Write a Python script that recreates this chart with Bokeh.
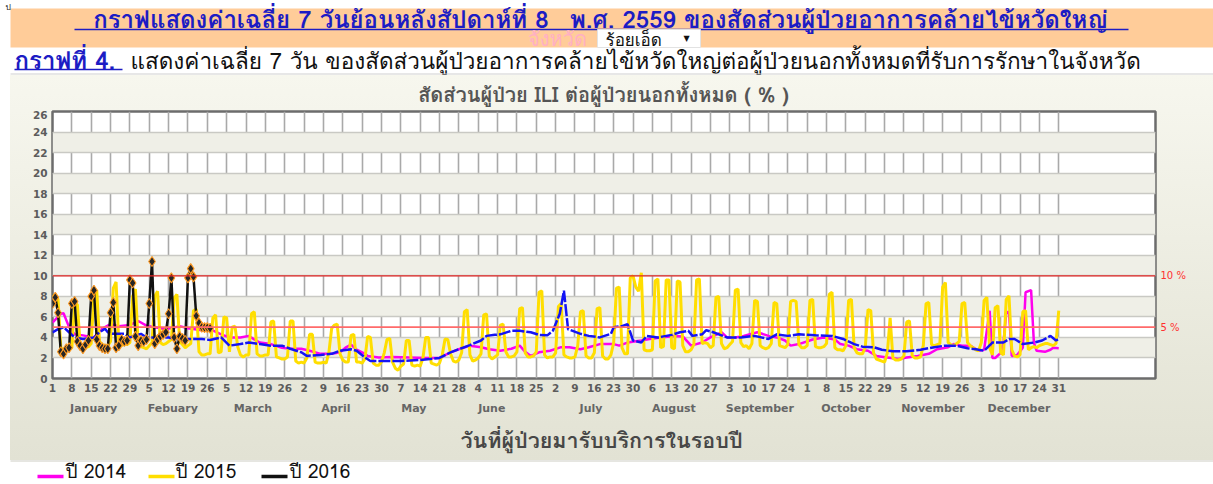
from bokeh.plotting import figure
from bokeh.models import Range1d, FixedTicker, LinearAxis, Span
from bokeh.layouts import column
from bokeh.embed import file_html
from bokeh.resources import INLINE
from bokeh.core.properties import value

# ---------------- data ----------------
week_tick_labels = ["1", "8", "15", "22", "29", "5", "12", "19", "26", "5", "12", "19", "26",
                    "2", "9", "16", "23", "30", "7", "14", "21", "28", "4", "11", "18", "25",
                    "2", "9", "16", "23", "30", "6", "13", "20", "27", "3", "10", "17", "24",
                    "1", "8", "15", "22", "29", "5", "12", "19", "26", "3", "10", "17", "24", "31"]
month_names = ["January", "Febuary", "March", "April", "May", "June", "July",
               "August", "September", "October", "November", "December"]
month_label_day = [15.9, 44.5, 73.5, 103.5, 131.7, 159.9, 195.8, 225.8, 256.9, 288.0, 319.5, 350.6]
y_ticks = [0, 2, 4, 6, 8, 10, 12, 14, 16, 18, 20, 22, 24, 26]
threshold_values = [5, 10]
threshold_labels = ["5 %", "10 %"]
series_names = ["ปี 2014", "ปี 2015", "ปี 2016"]

# 2014 (magenta) : (day, value) vertices
pts_2014 = [(1, 5.45), (4, 6.3), (5, 6.35), (7, 5.0), (9, 4.3), (12, 4.2), (16, 4.0), (18, 4.6),
            (19, 4.85), (22, 5.3), (25, 5.1), (29, 5.2), (32, 5.6), (35, 5.15), (38, 5.0), (41, 4.85),
            (44, 4.9), (47, 5.1), (50, 4.9), (55, 4.7), (58, 4.8), (62, 4.3), (65, 4.0), (69, 4.0),
            (72, 4.15), (74, 3.8), (76, 3.5), (80, 3.35), (84, 3.0), (87, 2.9), (91, 2.9), (94, 2.7),
            (98, 2.4), (102, 2.4), (105, 2.55), (107, 3.0), (109, 3.3), (111, 2.8), (113, 2.55),
            (115, 2.2), (119, 2.05), (124, 2.1), (130, 2.05), (136, 2.0), (141, 2.0), (145, 2.55),
            (148, 2.85), (152, 3.2), (156, 3.05), (159, 2.85), (163, 2.7), (167, 2.9), (170, 3.2),
            (172, 2.6), (174, 2.2), (177, 2.55), (181, 2.7), (185, 3.05), (188, 3.05), (192, 2.85),
            (195, 3.05), (199, 3.35), (204, 3.35), (206, 3.2), (209, 3.5), (214, 3.7), (217, 3.85),
            (221, 4.0), (226, 4.15), (229, 4.1), (232, 3.2), (236, 3.5), (239, 4.0), (243, 4.5),
            (245, 4.0), (248, 4.0), (251, 4.15), (256, 4.5), (260, 4.15), (263, 4.0), (266, 3.7),
            (268, 3.2), (271, 3.35), (276, 3.8), (280, 4.0), (284, 3.8), (286, 3.35), (289, 3.2),
            (292, 2.85), (296, 2.7), (299, 2.2), (303, 2.05), (307, 1.9), (310, 2.05), (314, 2.2),
            (318, 2.4), (321, 2.85), (325, 3.05), (327, 3.35), (330, 3.2), (333, 3.2), (336, 2.7),
            (338, 2.8), (340, 6.6), (341, 2.0), (342, 2.0), (344, 2.5), (345, 3.5), (346, 6.4),
            (347, 6.5), (348, 2.2), (350, 2.3), (352, 3.0), (353, 8.4), (355, 8.6), (356, 3.5),
            (357, 2.7), (360, 2.6), (362, 2.8), (363, 3.0), (365, 2.95)]

# 2015 (yellow) : one value per day, rows of 7 days
vals_2015 = [
    7.9, 8.2, 7.7, 3.0, 2.8, 2.9, 2.8,
    3.0, 7.3, 7.2, 3.2, 3.3, 3.0, 3.1,
    3.4, 8.3, 8.6, 3.6, 3.3, 3.2, 3.2,
    3.6, 8.8, 9.4, 3.3, 3.2, 3.4, 3.3,
    3.5, 8.0, 8.7, 3.4, 3.1, 3.0, 2.9,
    3.2, 3.5, 8.0, 8.5, 3.5, 3.3, 3.4,
    3.6, 3.8, 7.8, 8.2, 3.6, 3.3, 3.0,
    3.2, 3.4, 6.6, 6.75, 2.6, 2.3, 2.3,
    2.4, 2.4, 5.9, 6.2, 2.5, 2.6, 6.0,
    5.9, 2.6, 5.0, 5.1, 3.1, 2.3, 2.1,
    2.3, 2.3, 6.3, 6.5, 2.4, 2.2, 2.2,
    2.3, 2.3, 5.5, 5.6, 2.1, 2.0, 1.9,
    1.9, 2.1, 5.6, 5.6, 1.7, 1.5, 1.6,
    1.5, 2.0, 4.3, 4.3, 1.6, 1.5, 1.5,
    1.6, 1.5, 2.6, 4.9, 5.2, 5.3, 2.4,
    1.8, 1.6, 1.6, 4.2, 4.3, 1.6, 1.6,
    1.5, 1.9, 4.1, 4.0, 1.5, 1.3, 1.3,
    1.6, 2.5, 3.8, 3.9, 1.6, 1.0, 0.8,
    1.2, 1.4, 3.7, 3.7, 1.3, 1.2, 1.3,
    1.2, 2.0, 4.0, 4.0, 1.5, 1.4, 1.3,
    1.5, 2.3, 3.85, 3.8, 2.4, 1.7, 1.6,
    1.8, 2.5, 6.5, 6.7, 2.3, 1.7, 1.8,
    2.0, 2.4, 6.2, 6.3, 2.2, 1.9, 2.1,
    2.3, 5.2, 5.3, 2.6, 2.1, 2.1, 2.2,
    2.6, 6.8, 6.9, 2.5, 2.1, 2.1, 2.2,
    2.6, 8.4, 8.55, 2.3, 2.0, 2.1, 2.1,
    2.5, 7.0, 7.3, 2.3, 2.1, 2.0, 2.0,
    2.1, 3.2, 6.5, 6.6, 2.2, 2.0, 2.0,
    2.5, 6.8, 6.9, 2.2, 1.9, 1.9, 2.3,
    3.5, 8.8, 8.9, 3.0, 2.4, 2.4, 9.8,
    10.0, 8.9, 8.5, 10.3, 2.8, 2.7, 2.7,
    2.8, 9.5, 9.7, 3.0, 3.1, 9.6, 9.6,
    3.0, 2.9, 9.5, 9.4, 3.2, 2.6, 2.6,
    2.8, 3.3, 9.6, 9.7, 3.4, 3.5, 3.4,
    3.0, 3.2, 7.9, 8.0, 3.4, 2.9, 3.0,
    3.3, 3.6, 8.6, 8.7, 3.5, 3.1, 3.2,
    2.9, 3.4, 7.6, 7.5, 3.2, 3.0, 2.9,
    3.0, 3.4, 7.4, 7.3, 3.2, 3.1, 3.0,
    3.3, 7.5, 7.6, 7.5, 3.3, 3.0, 3.0,
    3.2, 7.6, 7.7, 3.1, 3.0, 3.0, 3.1,
    3.4, 8.2, 8.4, 3.0, 2.8, 2.8, 2.7,
    3.2, 7.6, 7.7, 3.0, 2.5, 2.4, 2.4,
    3.0, 6.7, 6.6, 2.5, 1.9, 1.8, 1.7,
    1.6, 2.5, 5.9, 2.0, 1.8, 1.8, 1.9,
    2.2, 5.5, 5.6, 2.2, 2.0, 2.0, 2.1,
    3.2, 7.3, 7.4, 3.3, 3.2, 3.3, 3.4,
    8.9, 9.35, 3.5, 3.3, 3.2, 3.4, 3.6,
    7.3, 7.4, 3.5, 3.2, 3.0, 2.8, 2.7,
    3.5, 7.6, 7.9, 3.0, 2.3, 6.9, 7.1,
    2.5, 2.3, 7.7, 8.05, 2.8, 2.2, 2.1,
    2.3, 6.5, 6.6, 2.8, 3.0, 3.1, 3.0,
    3.2, 3.3, 3.4, 3.4, 3.3, 3.2, 3.4,
    6.6]
days_2015 = list(range(1, len(vals_2015) + 1))

# blue reference line (not in legend) : (day, value) vertices
pts_blue = [(1, 4.5), (3, 4.8), (5, 5.0), (7, 4.5), (9, 4.0), (12, 3.85), (16, 4.0), (18, 4.5),
            (20, 4.85), (21, 4.5), (23, 4.35), (27, 4.35), (29, 4.0), (33, 4.35), (35, 4.0), (39, 4.0),
            (43, 4.0), (46, 3.85), (51, 3.85), (55, 3.85), (58, 3.75), (62, 4.0), (65, 3.2), (69, 3.35),
            (72, 3.5), (76, 3.35), (80, 3.2), (84, 3.2), (87, 2.9), (91, 2.55), (93, 2.2), (98, 2.3),
            (102, 2.4), (105, 2.7), (109, 2.85), (111, 2.7), (114, 2.05), (116, 1.7), (121, 1.7),
            (127, 1.7), (134, 1.8), (141, 2.0), (145, 2.55), (148, 2.85), (152, 3.25), (156, 3.7),
            (158, 4.15), (161, 4.25), (163, 4.3), (167, 4.65), (170, 4.65), (174, 4.5), (177, 4.25),
            (180, 4.2), (182, 4.65), (184.5, 6.3), (186, 8.55), (187.5, 4.8), (192, 4.35), (195, 4.15),
            (199, 4.0), (203, 4.35), (204, 5.0), (207, 5.1), (209, 5.3), (211, 3.7), (214, 3.5),
            (216, 4.15), (220, 4.0), (225, 4.25), (228, 4.5), (231, 4.65), (232.5, 4.15), (236, 4.3),
            (237.5, 4.7), (240, 4.5), (245, 4.0), (250, 4.0), (255, 4.15), (260, 3.85), (263, 4.3),
            (267, 4.15), (271, 4.3), (277, 4.2), (283, 4.15), (287, 3.85), (291, 3.35), (294, 3.1),
            (298, 3.05), (301, 2.8), (305, 2.65), (310, 2.65), (315, 2.8), (320, 3.05), (324, 3.2),
            (328, 3.2), (332, 2.95), (335, 2.85), (338, 2.7), (341, 3.5), (345, 3.5), (347, 3.85),
            (349, 3.85), (352, 3.35), (356, 3.5), (359, 3.7), (362, 4.15), (364, 3.7), (365, 3.85)]

# 2016 (black, markers) : one value per day, 1 Jan .. 27 Feb
vals_2016 = [7.3, 7.9, 6.4, 2.6, 2.4, 2.9, 3.0,
             7.3, 7.5, 3.6, 3.2, 2.9, 3.3, 3.7,
             8.0, 8.6, 3.8, 3.2, 3.0, 2.9, 2.9,
             6.4, 7.4, 3.0, 3.2, 3.8, 3.6, 3.7,
             9.6, 9.3, 4.1, 3.2, 3.7, 3.6, 3.8,
             7.3, 11.4, 3.4, 3.8, 4.1, 4.3, 4.5,
             6.3, 9.8, 4.0, 2.9, 4.1, 3.9, 3.7,
             9.8, 10.7, 9.9, 6.1, 5.4, 5.0, 4.95,
             4.95, 4.9]
days_2016 = list(range(1, len(vals_2016) + 1))

d14 = [p[0] for p in pts_2014]
v14 = [p[1] for p in pts_2014]
dbl = [p[0] for p in pts_blue]
vbl = [p[1] for p in pts_blue]
week_tick_days = [1 + 7 * i for i in range(len(week_tick_labels))]

# ---------------- styling ----------------
THAI = "Tahoma, Loma, Waree, Garuda, 'Noto Sans Thai', 'Noto Sans Thai UI', sans-serif"
NUM = "DejaVu Sans"
W = 1213
C14, C15, CBL, C16 = "#ff00ee", "#ffde00", "#1414f5", "#111111"
LINK = "#1c1cc4"
LEFT_WHITE = "linear-gradient(#ffffff, #ffffff) 0 0 / 10px 100% no-repeat"


def bare(fig):
    if "frame_align" in fig.properties():
        fig.frame_align = False
    fig.grid.visible = False
    fig.outline_line_color = None
    fig.background_fill_color = None
    fig.border_fill_color = None


# ---------------- header (page y 0..110) ----------------
h = figure(width=W, height=110, x_range=Range1d(0, W), y_range=Range1d(110, 0),
           output_backend="svg", toolbar_location=None, min_border=0,
           x_axis_location=None, y_axis_location=None)
bare(h)
h.styles = {"background": LEFT_WHITE + ", linear-gradient(#ffffff 0px, #ffffff 75px, "
                                       "#f7f7ee 75px, #f5f5ec 110px)"}
h.quad(left=[10], right=[W], top=[8], bottom=[47], fill_color="#ffcc99", line_color=None)
h.text(x=[5], y=[6.5], text=["ป"], text_align="left", text_baseline="middle",
       text_font=value(THAI), text_font_size="8.5px", text_color="#222222")
h.text(x=[600], y=[19], text=["กราฟแสดงค่าเฉลี่ย 7 วันย้อนหลังสัปดาห์ที่ 8\u00a0\u00a0 พ.ศ. 2559 ของสัดส่วนผู้ป่วยอาการคล้ายไข้หวัดใหญ่"],
       text_align="center", text_baseline="middle", text_font=value(THAI), text_font_style="bold",
       text_font_size="24px", text_color=LINK)
h.segment(x0=[74], y0=[29], x1=[1128], y1=[29], line_color=LINK, line_width=1.5)
h.text(x=[557], y=[38], text=["จังหวัด"], text_align="center", text_baseline="middle",
       text_font=value(THAI), text_font_size="20px", text_color="#ffb0c4")
h.quad(left=[597], right=[700], top=[29], bottom=[47], fill_color="white", line_color="#e2e2e2")
h.text(x=[605], y=[38.5], text=["ร้อยเอ็ด"], text_align="left", text_baseline="middle",
       text_font=value(THAI), text_font_size="17px", text_color="#111111")
h.text(x=[686], y=[38], text=["▼"], text_align="center", text_baseline="middle",
       text_font=value("DejaVu Sans"), text_font_size="8px", text_color="#111111")
h.text(x=[14], y=[60], text=["กราฟที่ 4."], text_align="left", text_baseline="middle",
       text_font=value(THAI), text_font_style="bold", text_font_size="24px", text_color=LINK)
h.segment(x0=[14], y0=[69], x1=[122], y1=[69], line_color=LINK, line_width=1.5)
h.text(x=[130], y=[60], text=["แสดงค่าเฉลี่ย 7 วัน ของสัดส่วนผู้ป่วยอาการคล้ายไข้หวัดใหญ่ต่อผู้ป่วยนอกทั้งหมดที่รับการรักษาในจังหวัด"],
       text_align="left", text_baseline="middle", text_font=value(THAI), text_font_size="22.5px",
       text_color="#111111")
h.segment(x0=[10], y0=[73.5], x1=[W], y1=[73.5], line_color="#cfcfcf", line_width=1)
h.text(x=[603], y=[94], text=["สัดส่วนผู้ป่วย ILI ต่อผู้ป่วยนอกทั้งหมด ( % )"], text_align="center",
       text_baseline="middle", text_font=value(THAI), text_font_style="bold",
       text_font_size="20px", text_color="#555555")

# ---------------- chart (page y 110..424) ----------------
p = figure(width=W, height=314, x_range=Range1d(1, 400), y_range=Range1d(0, 26),
           output_backend="svg", toolbar_location=None,
           min_border_left=52, min_border_right=58, min_border_top=1, min_border_bottom=46)
if "frame_align" in p.properties():
    p.frame_align = False
p.border_fill_color = None
p.styles = {"background": LEFT_WHITE + ", linear-gradient(#f5f5ec, #e4e4d6)"}
p.background_fill_color = "white"
p.outline_line_color = "#6c6c6c"
p.outline_line_width = 2.5

xa = p.xaxis[0]
xa.ticker = FixedTicker(ticks=week_tick_days)
xa.major_label_overrides = {d: lab for d, lab in zip(week_tick_days, week_tick_labels)}
ya = p.yaxis[0]
ya.ticker = FixedTicker(ticks=y_ticks)
ra = LinearAxis(ticker=FixedTicker(ticks=threshold_values),
                major_label_overrides={v: t for v, t in zip(threshold_values, threshold_labels)})
p.add_layout(ra, "right")
ma = LinearAxis(ticker=FixedTicker(ticks=month_label_day),
                major_label_overrides={d: m for d, m in zip(month_label_day, month_names)})
p.add_layout(ma, "below")

for ax in (xa, ya, ra, ma):
    ax.axis_line_color = None
    ax.major_tick_line_color = None
    ax.minor_tick_line_color = None
    ax.major_tick_out = 0
    ax.major_tick_in = 0
    ax.minor_tick_out = 0
    ax.minor_tick_in = 0
    ax.major_label_text_font = NUM
    ax.major_label_text_font_style = "bold"
    ax.major_label_text_font_size = "10.5px"
    ax.major_label_text_color = "#5c5c5c"
xa.major_label_standoff = 5
ya.major_label_standoff = 5
ra.major_label_standoff = 5
ra.major_label_text_font_style = "normal"
ra.major_label_text_font_size = "10px"
ra.major_label_text_color = "#ff3030"
ma.major_label_standoff = 7
ma.major_label_text_font_size = "11px"
ma.major_label_text_color = "#666666"

p.xgrid.ticker = FixedTicker(ticks=week_tick_days)
p.xgrid.grid_line_color = "#a9a9a9"
p.xgrid.grid_line_width = 1.6
p.ygrid.ticker = FixedTicker(ticks=y_ticks)
p.ygrid.grid_line_color = "#c9c9c4"
p.ygrid.grid_line_width = 1.3
p.ygrid.band_fill_color = "#efefe7"
p.ygrid.band_fill_alpha = 1.0

p.add_layout(Span(location=threshold_values[1], dimension="width", line_color="#e02424", line_width=1.3))
p.add_layout(Span(location=threshold_values[0], dimension="width", line_color="#ff6a6a", line_width=1.8))

p.line(d14, v14, line_color=C14, line_width=2.5)
p.line(days_2015, vals_2015, line_color=C15, line_width=3)
p.line(dbl, vbl, line_color=CBL, line_width=2.5, line_dash="12 2")
p.line(days_2016, vals_2016, line_color=C16, line_width=2.5)
p.scatter(days_2016, vals_2016, marker="diamond", size=10, fill_color="#262626",
          line_color="#ff9a22", line_width=1.1)

# ---------------- footer: x-axis title + legend (page y 424..484) ----------------
f = figure(width=W, height=60, x_range=Range1d(0, W), y_range=Range1d(484, 424),
           output_backend="svg", toolbar_location=None, min_border=0,
           x_axis_location=None, y_axis_location=None)
bare(f)
f.styles = {"background": LEFT_WHITE + ", linear-gradient(#e4e4d6 0px, #e2e2d4 36px, "
                                       "#ffffff 36px, #ffffff 60px)"}
f.segment(x0=[10], y0=[460.5], x1=[W], y1=[460.5], line_color="#cdcdc4", line_width=1)
f.text(x=[601], y=[439], text=["วันที่ผู้ป่วยมารับบริการในรอบปี"], text_align="center",
       text_baseline="middle", text_font=value(THAI), text_font_style="bold",
       text_font_size="21.5px", text_color="#474747")
f.segment(x0=[37, 148, 261], y0=[476, 476, 476], x1=[63, 174, 287], y1=[476, 476, 476],
          line_color=[C14, C15, C16], line_width=3.5)
f.text(x=[65, 175, 289], y=[470, 470, 470], text=series_names, text_align="left",
       text_baseline="middle", text_font=value(THAI), text_font_size="19px",
       text_color="#111111")

layout = column(h, p, f, spacing=0)
open("out.html", "w").write(file_html(layout, INLINE))
